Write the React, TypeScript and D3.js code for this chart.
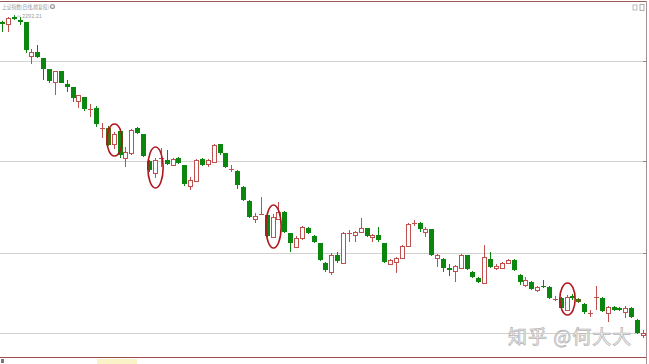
import React from "react";
import * as d3 from "d3";

const W = 649;
const H = 364;

// Daily candles (price units), oldest -> newest
const opens = [2275,2270,2287.5,2280,2275,2190,2200,2185,2157.5,2125,2152.5,2120,2112.5,2077.5,2087.5,2055,2060,2009,2010,1970,2002.5,1935,1947.5,2010,1995,1927.5,1897.5,1932.5,1930,1917.5,1935,1917.5,1865,1877.5,1932.5,1920,1925,1970,1947.5,1906,1902.5,1862.5,1827.5,1782.5,1794,1792.5,1737.5,1782.5,1800,1747.5,1712.5,1735,1760,1740,1722.5,1672.5,1650,1692.5,1672.5,1745,1742.5,1750,1760,1737.5,1742.5,1722.5,1670,1675,1685,1715,1771,1772.5,1750,1757.5,1685,1682.5,1660,1652.5,1660,1692.5,1650,1635,1622.5,1682.5,1660,1660,1672.5,1680,1642.5,1617.5,1625,1605,1615,1612.5,1581,1585,1555,1590,1582.5,1570,1546,1586,1585,1547.5,1562.5,1560,1550,1560,1530,1492.5];
const closes = [2270,2285,2282.5,2275,2205,2200,2187.5,2157.5,2127.5,2152.5,2122.5,2112.5,2085,2092.5,2057.5,2057.5,2020,2010,1967.5,1995,1942.5,1950,2005,1997.5,1940,1905,1930,1935,1920,1932.5,1922.5,1870,1880,1930,1917.5,1930,1967.5,1947.5,1912.5,1907.5,1867.5,1830,1787.5,1790,1795,1740,1787.5,1800,1750,1722.5,1735,1762.5,1747.5,1725,1680,1655,1692.5,1677.5,1747.5,1747.5,1750,1760,1740,1742.5,1730,1675,1680,1685,1715,1770,1772.5,1757.5,1757.5,1692.5,1692.5,1660,1655,1665,1692.5,1657.5,1637.5,1625,1687.5,1662.5,1665,1672.5,1680,1655,1625,1630,1607.5,1612.5,1612.5,1585,1582.5,1560,1587.5,1585,1575,1550,1547.5,1587.5,1552.5,1562.5,1555,1555,1560,1537.5,1497.5,1497.5];
const highs = [2278,2287.5,2292.21,2287.5,2275,2207.5,2217.5,2185,2157.5,2152.5,2152.5,2130,2112.5,2092.5,2087.5,2070,2065,2022.5,2015,2000,2007.5,1962.5,2007.5,2012.5,1995,1930,1935,1960,1955,1935,1937.5,1917.5,1887.5,1932.5,1935,1932.5,1970,1970,1947.5,1917.5,1905,1865,1830,1797.5,1837.5,1795,1795,1825,1802.5,1747.5,1740,1765,1762.5,1742.5,1722.5,1675,1697.5,1700,1750,1755,1752.5,1785,1760,1745,1762.5,1722.5,1682.5,1687.5,1717.5,1772.5,1780,1775,1762.5,1757.5,1695,1685,1670,1667.5,1695,1692.5,1652.5,1637.5,1717.5,1700,1670,1675,1682.5,1682.5,1645,1637.5,1627.5,1615,1630,1615,1590,1587.5,1592.5,1595,1585,1572.5,1555,1615,1587.5,1565,1565,1562.5,1565,1562.5,1532.5,1505];
const lows = [2250,2250,2280,2267.5,2197.5,2170,2185,2130,2122.5,2092.5,2122.5,2100,2075,2060,2052.5,2037.5,2012.5,1985,1965,1957.5,1935,1912.5,1942.5,1995,1937.5,1900,1885,1912.5,1917.5,1915,1920,1865,1855,1875,1915,1912.5,1922.5,1942.5,1910,1900,1857.5,1827.5,1785,1772.5,1792.5,1737.5,1735,1780,1747.5,1700,1710,1730,1745,1722.5,1677.5,1650,1642.5,1672.5,1670,1725,1725,1747.5,1737.5,1725,1725,1672.5,1667.5,1647.5,1682.5,1712.5,1765,1750,1737.5,1690,1662.5,1650,1640,1625,1657.5,1655,1635,1622.5,1620,1660,1655,1657.5,1670,1652.5,1617.5,1612.5,1605,1600,1610,1582.5,1577.5,1557.5,1552.5,1580,1572.5,1545,1537.5,1555,1550,1525,1552.5,1552.5,1535,1535,1495,1485];

const gridValues = [2177.5, 1927.5, 1697.5, 1497.5];

// Circled (highlighted) patterns: candle index, top and bottom price of the ring
const circledIdx = [19, 26, 46, 96];
const circledTop = [2020, 1962.5, 1817.5, 1622.5];
const circledBottom = [1940, 1860, 1710, 1542.5];

const oliveIdx = [18, 98];

const titleText = "上证指数(日线,前复权)";
const maxLabel = "2292.21";
const watermark = "知乎 @何大大";

const GREEN = "#0b860f";
const RED = "#c0504d";

export default function App() {
  const n = opens.length;
  const x = d3
    .scaleBand<number>()
    .domain(d3.range(n))
    .range([-1, 646])
    .paddingInner(0.3)
    .paddingOuter(0.16);
  const y = d3.scaleLinear().domain([1437.5, 2325]).range([357, 2]);
  const bw = Math.max(3, Math.round(x.bandwidth()));
  const step = x.step();

  const cx = (i: number) => Math.round((x(i) as number) + x.bandwidth() / 2);

  const maxI = d3.maxIndex(highs);

  return (
    <svg
      width={W}
      height={H}
      style={{ position: "absolute", left: 0, top: 0, background: "#fff" }}
      fontFamily="'Noto Sans CJK SC', 'Noto Sans', sans-serif"
    >
      <rect x={0} y={0} width={W} height={H} fill="#fff" />
      {/* grid */}
      {gridValues.map((g, i) => (
        <g key={i}>
          <line x1={0} x2={646} y1={Math.round(y(g)) + 0.5} y2={Math.round(y(g)) + 0.5} stroke="#d2d2d2" strokeWidth={1} />
          <line x1={643} x2={646} y1={Math.round(y(g)) + 0.5} y2={Math.round(y(g)) + 0.5} stroke="#888" strokeWidth={1} />
        </g>
      ))}
      {/* frame */}
      <line x1={0} x2={646} y1={1.5} y2={1.5} stroke="#9a5a5a" strokeWidth={1} />
      <line x1={646.5} x2={646.5} y1={1} y2={H} stroke="#a89090" strokeWidth={1} />
      <line x1={0} x2={646} y1={357.5} y2={357.5} stroke="#a04a4a" strokeWidth={1} />
      <rect x={97} y={359} width={40} height={5} fill="#f6ea9a" opacity={0.55} />
      <rect x={1} y={359} width={3} height={4} fill="#777" />

      {/* title */}
      <text x={2} y={9} fontSize={5.5} fill="#9a9a9a" textLength={47} lengthAdjust="spacingAndGlyphs">
        {titleText}
      </text>
      <circle cx={52.5} cy={6.5} r={2.6} fill="#a0a0a0" />
      <circle cx={52.5} cy={6.5} r={1.2} fill="#fff" />
      <rect x={633} y={5} width={4} height={5} fill="none" stroke="#aaa" strokeWidth={0.8} />
      <rect x={640} y={4.5} width={4} height={6} fill="none" stroke="#999" strokeWidth={0.8} />

      {/* candles */}
      {opens.map((o, i) => {
        const c = closes[i];
        const up = c > o;
        const olive = oliveIdx.includes(i);
        const col = olive ? "#4f6a14" : up ? RED : GREEN;
        const xc = cx(i);
        const top = Math.round(y(Math.max(o, c)));
        const bot = Math.round(y(Math.min(o, c)));
        const h = Math.max(1, bot - top);
        const x0 = xc - Math.floor(bw / 2);
        return (
          <g key={i}>
            <line x1={xc + 0.5} x2={xc + 0.5} y1={y(highs[i])} y2={y(lows[i])} stroke={col} strokeWidth={1} />
            {up ? (
              h <= 1 ? (
                <line x1={x0} x2={x0 + bw + 1} y1={top + 0.5} y2={top + 0.5} stroke={col} strokeWidth={1} />
              ) : (
                <rect x={x0 + 0.5} y={top + 0.5} width={bw} height={h} fill="#fff" stroke={col} strokeWidth={1} />
              )
            ) : (
              <rect x={x0} y={top} width={bw + 1} height={Math.max(1, h)} fill={col} />
            )}
          </g>
        );
      })}

      {/* max label */}
      <line x1={cx(maxI) + 3} x2={cx(maxI) + 7} y1={y(highs[maxI]) + 1} y2={y(highs[maxI]) + 1} stroke="#aaa" strokeWidth={0.6} />
      <text x={cx(maxI) + 8} y={y(highs[maxI]) + 3} fontSize={5.5} fill="#a0a0a0">
        {maxLabel}
      </text>

      {/* circled patterns */}
      {circledIdx.map((ci, k) => {
        const t = y(circledTop[k]);
        const b = y(circledBottom[k]);
        return (
          <ellipse
            key={k}
            cx={cx(ci) + 0.5}
            cy={(t + b) / 2}
            rx={step * 1.3}
            ry={(b - t) / 2}
            fill="none"
            stroke="#b0161c"
            strokeWidth={1.6}
          />
        );
      })}

      {/* watermark */}
      <text x={508} y={344} fontSize={19} fill="#ffffff" stroke="#b4b4b4" strokeWidth={0.75} letterSpacing={1}>
        {watermark}
      </text>
    </svg>
  );
}
